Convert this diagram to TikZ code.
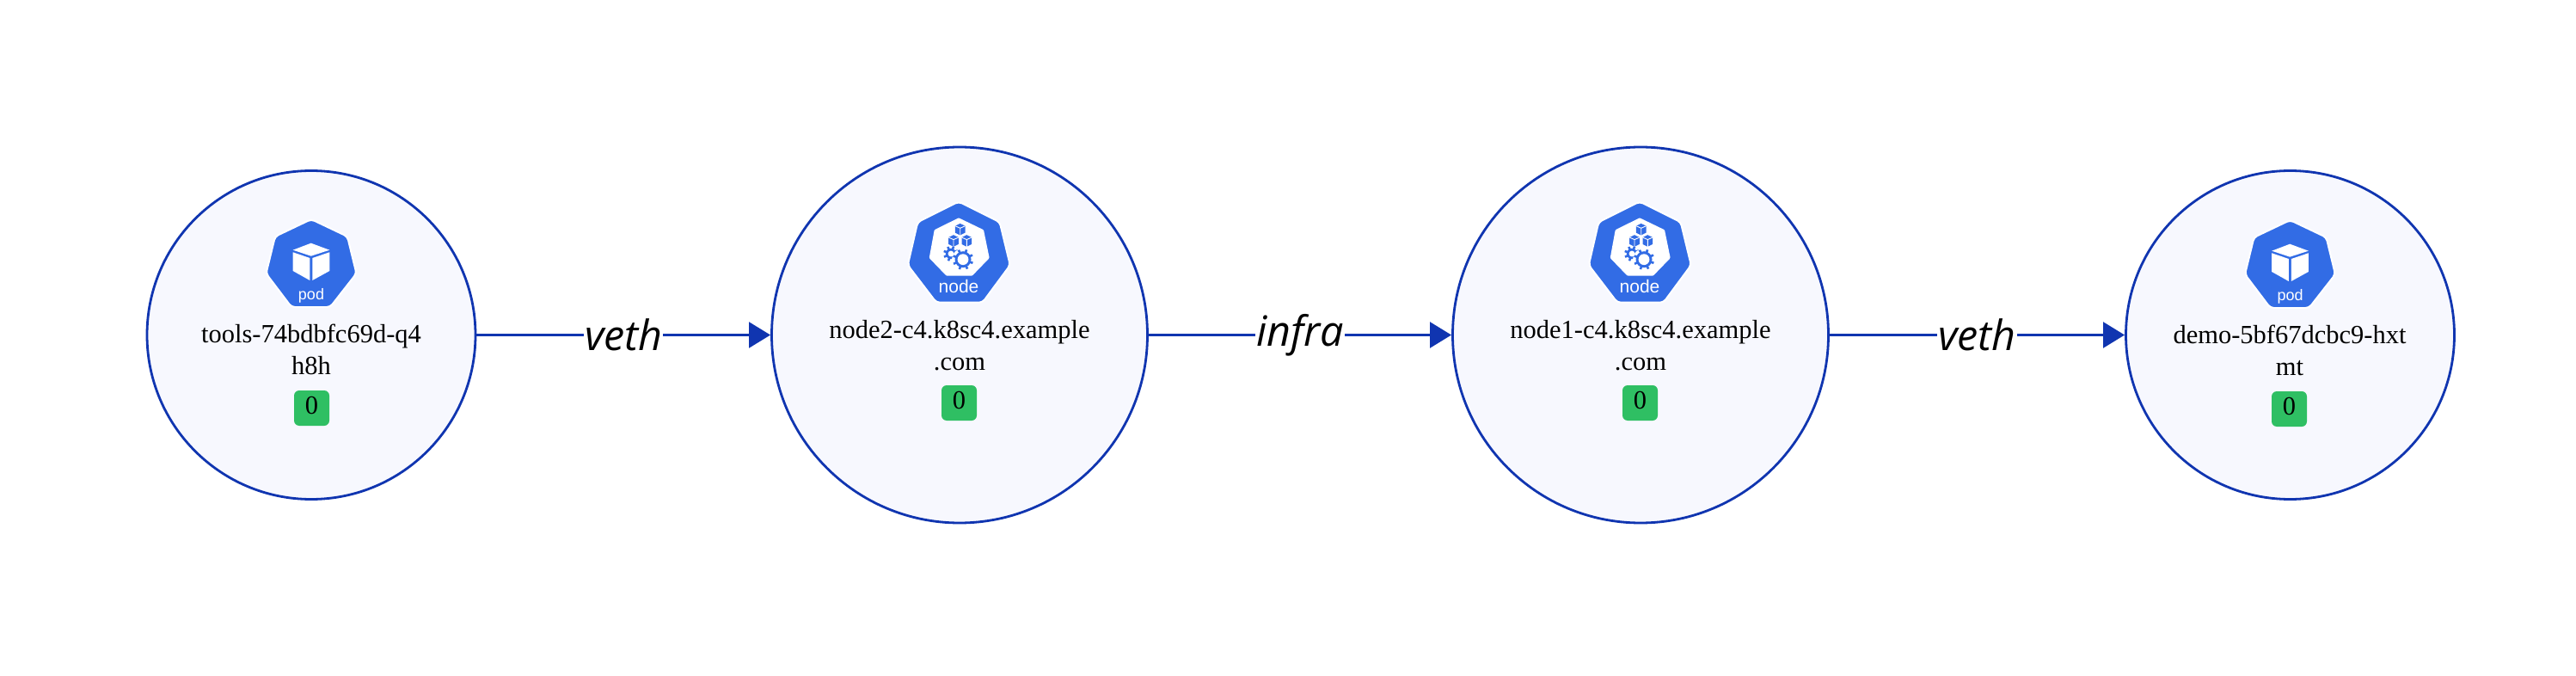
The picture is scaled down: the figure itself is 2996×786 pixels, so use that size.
\documentclass[tikz,border=0pt]{standalone}
\usepackage{fontspec}
\setmainfont{Liberation Serif}
\newfontfamily\iconfont{Liberation Sans}
\newfontfamily\edgefont{Open Sans}
\usetikzlibrary{arrows.meta}
\definecolor{k8s}{HTML}{326CE5}
\definecolor{edgeblue}{HTML}{1035B0}
\definecolor{bubble}{HTML}{F7F8FE}
\definecolor{okgreen}{HTML}{2FBF63}
\newcommand{\gearat}[4]{% x y body/hole/tooth radii via #3 #4
  \fill[k8s] (#1,#2) circle[radius=#3];
  \foreach \a in {0,45,...,315}{\draw[k8s,line width=2.6pt] (#1,#2) -- ++(\a+20:#3+2.6);}
  \fill[white] (#1,#2) circle[radius=#4];
}
\newcommand{\tinycube}[2]{%
  \begin{scope}[shift={(#1,#2)}]
  \fill[k8s] (0,-6.8) -- (5.8,-4) -- (5.8,3.9) -- (0,6.8) -- (-5.8,3.9) -- (-5.8,-4) -- cycle;
  \draw[white,line width=.9pt] (-5.8,-4) -- (0,-1.4) -- (5.8,-4) (0,-1.4) -- (0,6.8);
  \end{scope}
}
\tikzset{
  bubblenode/.style={circle,draw=edgeblue,fill=bubble,line width=2.8pt,inner sep=0pt,outer sep=0pt},
  podbubble/.style={bubblenode,minimum size=382pt},
  nodebubble/.style={bubblenode,minimum size=437pt},
  nametext/.style={align=center,anchor=base,inner sep=0pt,font=\fontsize{30.5}{37}\selectfont},
  badge/.style={fill=okgreen,rounded corners=6pt,minimum size=41pt,inner sep=0pt},
  countnum/.style={anchor=base,inner sep=0pt,font=\fontsize{30.5}{37}\selectfont},
  link/.style={draw=edgeblue,line width=2.4pt,shorten >=1.5pt,-{Triangle[length=25pt,width=30pt]}},
  linklabel/.style={midway,fill=white,inner xsep=1pt,inner ysep=0pt,font=\edgefont\itshape\fontsize{48.5}{52}\selectfont},
  hept/.style={fill=k8s,draw=white,line width=2pt,rounded corners=4pt,line join=round},
  podicon/.pic={
    \path[hept] (0,-134.5) -- (42,-114.5) -- (52.5,-71.5) -- (22,-32.5) -- (-23,-32.5) -- (-52.5,-71.5) -- (-42,-114.5) -- cycle;
    \fill[white] (-.3,-106.8) -- (21.3,-98.8) -- (-.3,-91.8) -- (-21.3,-98.8) -- cycle;
    \fill[white] (-21.3,-96.2) -- (-1.7,-89.5) -- (-1.7,-63.5) -- (-21.3,-74.5) -- cycle;
    \fill[white] (1.3,-89.5) -- (21.3,-96.2) -- (21.3,-74.5) -- (1.3,-63.5) -- cycle;
    \node[anchor=base,inner sep=0pt,text=white,font=\iconfont\fontsize{18}{20}\selectfont] (word) at (0,-41.2) {pod};
  },
  nodeicon/.pic={
    \path[hept] (-1,-155) -- (46.7,-131.2) -- (58.8,-81.2) -- (26.7,-37.8) -- (-27,-37.8) -- (-60.2,-81.2) -- (-48.7,-131.2) -- cycle;
    \fill[white,rounded corners=1pt] (-1,-136.2) -- (28,-122.2) -- (34.7,-89.5) -- (14.7,-68.8) -- (-15.3,-68.8) -- (-35.3,-89.5) -- (-29.3,-122.2) -- cycle;
    \tinycube{.7}{-122.8}
    \tinycube{-7}{-109.5}
    \tinycube{8.3}{-109.5}
    \gearat{-10}{-94.5}{6.2}{3.4}
    \fill[white] (4,-87.8) circle[radius=13];
    \gearat{4}{-87.8}{9.5}{6.4}
    \node[anchor=base,inner sep=0pt,text=white,font=\iconfont\fontsize{21}{23}\selectfont] (word) at (-1,-48.8) {node};
  }
}
\begin{document}
\begin{tikzpicture}[x=1pt,y=-1pt]
\useasboundingbox (0,0) rectangle (2996,786);
\fill[white] (0,0) rectangle (2996,786);
% bubbles
\node[podbubble] (tools) at (362,389.5) {};
\node[nodebubble] (node2) at (1116,389.5) {};
\node[nodebubble] (node1) at (1908,389.5) {};
\node[podbubble] (demo) at (2663.5,389.5) {};
% links
\draw[link] (tools) -- node[linklabel] (l1) {veth} (node2);
\draw[link] (node2) -- node[linklabel] (l2) {infra} (node1);
\draw[link] (node1) -- node[linklabel] (l3) {veth} (demo);
% icons
\pic (ic1) at (tools.center) {podicon};
\pic (ic2) at (node2.center) {nodeicon};
\pic (ic3) at (node1.center) {nodeicon};
\pic (ic4) at ([yshift=-1pt]demo.center) {podicon};
% names
\node[nametext] (t1) at (362,435.7) {tools-74bdbfc69d-q4\\h8h};
\node[nametext] (t2) at (1116,430) {node2-c4.k8sc4.example\\.com};
\node[nametext] (t3) at (1908,430) {node1-c4.k8sc4.example\\.com};
\node[nametext] (t4) at (2663,436) {demo-5bf67dcbc9-hxt\\mt};
% badges
\node[badge] (b1) at (362.5,474.5) {};
\node[badge] (b2) at (1115.5,468.5) {};
\node[badge] (b3) at (1907.5,468.5) {};
\node[badge] (b4) at (2662.5,475.5) {};
\node[countnum] at (362.5,481) {0};
\node[countnum] at (1115.5,475) {0};
\node[countnum] at (1907.5,475) {0};
\node[countnum] at (2662.5,482) {0};
\end{tikzpicture}
\end{document}
